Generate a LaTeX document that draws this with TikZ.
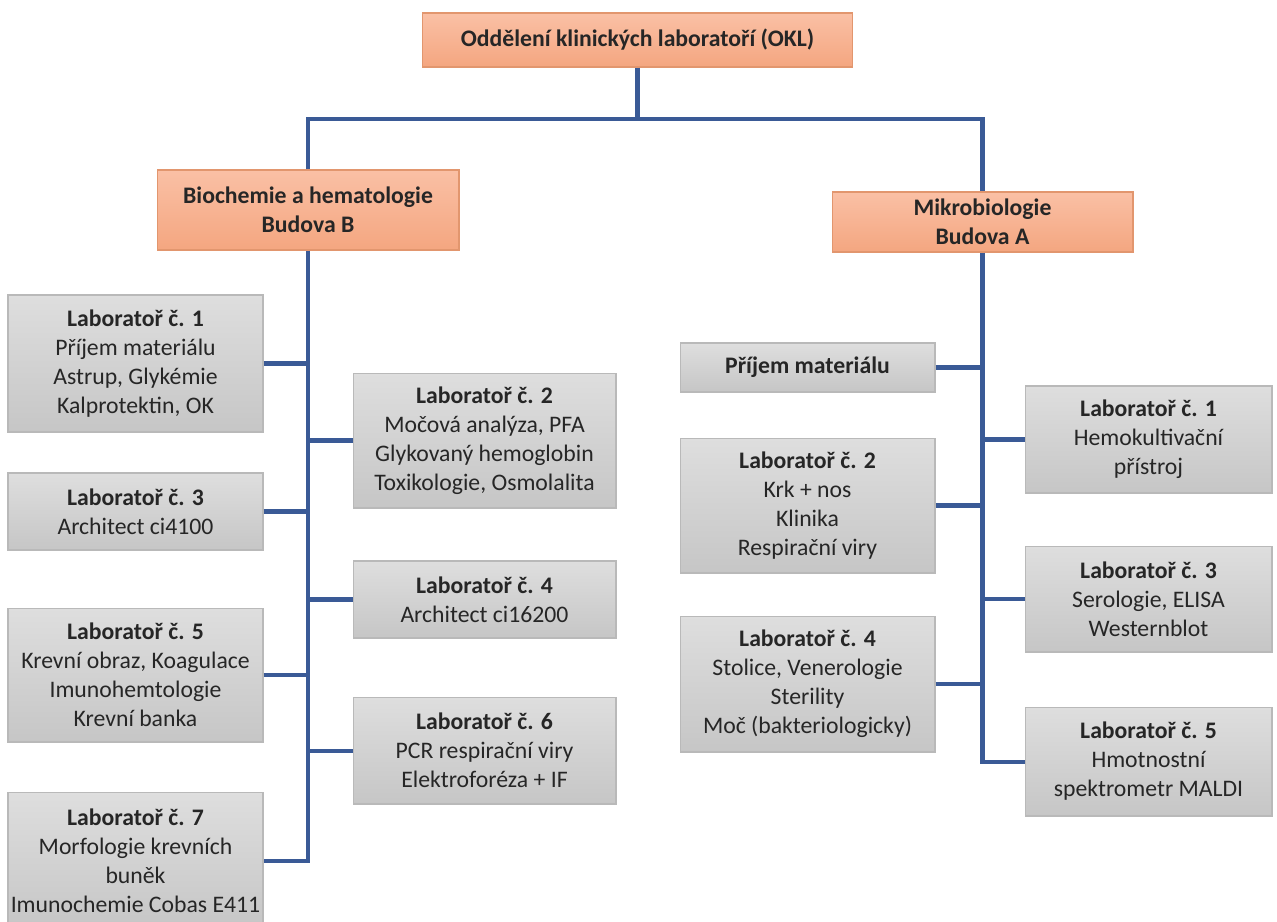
\documentclass[tikz,border=0pt]{standalone}
\usepackage{fontspec}
\setmainfont{Carlito}
\definecolor{linkblue}{RGB}{58,90,150}
\definecolor{salmontop}{RGB}{250,192,165}
\definecolor{salmonbot}{RGB}{244,166,128}
\definecolor{salmonline}{RGB}{226,150,110}
\definecolor{greytop}{RGB}{222,222,222}
\definecolor{greybot}{RGB}{198,198,198}
\definecolor{greyline}{RGB}{185,185,185}
\definecolor{inkgrey}{RGB}{38,38,38}
\tikzset{
	box/.style={rectangle, inner sep=0pt, align=center, text=inkgrey,
		font=\fontsize{13.5}{16.5}\selectfont, line width=0.6pt},
	headbox/.style={box, draw=salmonline, top color=salmontop, bottom color=salmonbot},
	labbox/.style={box, draw=greyline, top color=greytop, bottom color=greybot},
	link/.style={draw=linkblue, line width=2.3pt}
}
\begin{document}
\begin{tikzpicture}[x=0.02cm, y=-0.02cm]
		\useasboundingbox (0, 0) rectangle (1277, 921);
		%top
		\node[headbox, minimum width=8.62cm, minimum height=1.08cm] (okl) at (637.5, 40) {\textbf{Oddělení klinických laboratoří (OKL)}};
		\node[headbox, minimum width=6.04cm, minimum height=1.6cm] (bio) at (308, 210) {\textbf{Biochemie a hematologie}\\\textbf{Budova B}};
		\node[headbox, minimum width=6.02cm, minimum height=1.2cm] (mik) at (982.5, 222) {\textbf{Mikrobiologie}\\\textbf{Budova A}};
		\coordinate (split) at (637.5, 119);
		%budova B, left
		\node[labbox, minimum width=5.1cm, minimum height=2.74cm] (b1) at (135.5, 363.5) {\textbf{Laboratoř č. 1}\\Příjem materiálu\\Astrup, Glykémie\\Kalprotektin, OK};
		\node[labbox, minimum width=5.1cm, minimum height=1.54cm] (b3) at (135.5, 511.5) {\textbf{Laboratoř č. 3}\\Architect ci4100};
		\node[labbox, minimum width=5.1cm, minimum height=2.68cm] (b5) at (135.5, 675) {\textbf{Laboratoř č. 5}\\Krevní obraz, Koagulace\\Imunohemtologie\\Krevní banka};
		\node[labbox, minimum width=5.1cm, minimum height=2.74cm] (b7) at (135.5, 860.5) {\textbf{Laboratoř č. 7}\\Morfologie krevních\\buněk\\Imunochemie Cobas E411};
		%budova B, right
		\node[labbox, minimum width=5.26cm, minimum height=2.7cm] (b2) at (484.5, 440.5) {\textbf{Laboratoř č. 2}\\Močová analýza, PFA\\Glykovaný hemoglobin\\Toxikologie, Osmolalita};
		\node[labbox, minimum width=5.26cm, minimum height=1.54cm] (b4) at (484.5, 599.5) {\textbf{Laboratoř č. 4}\\Architect ci16200};
		\node[labbox, minimum width=5.26cm, minimum height=2.14cm] (b6) at (484.5, 750.5) {\textbf{Laboratoř č. 6}\\PCR respirační viry\\Elektroforéza + IF};
		%budova A, left
		\node[labbox, minimum width=5.1cm, minimum height=0.98cm] (mp) at (807.5, 367.5) {\textbf{Příjem materiálu}};
		\node[labbox, minimum width=5.1cm, minimum height=2.7cm] (m2) at (807.5, 505.5) {\textbf{Laboratoř č. 2}\\Krk + nos\\Klinika\\Respirační viry};
		\node[labbox, minimum width=5.1cm, minimum height=2.72cm] (m4) at (807.5, 684) {\textbf{Laboratoř č. 4}\\Stolice, Venerologie\\Sterility\\Moč (bakteriologicky)};
		%budova A, right
		\node[labbox, minimum width=4.94cm, minimum height=2.14cm] (m1) at (1148.5, 439.5) {\textbf{Laboratoř č. 1}\\Hemokultivační\\přístroj};
		\node[labbox, minimum width=4.94cm, minimum height=2.12cm] (m3) at (1148.5, 599) {\textbf{Laboratoř č. 3}\\Serologie, ELISA\\Westernblot};
		\node[labbox, minimum width=4.94cm, minimum height=2.18cm] (m5) at (1148.5, 761.5) {\textbf{Laboratoř č. 5}\\Hmotnostní\\spektrometr MALDI};
		%links
		\draw[link] (okl.south) -- (split);
		\draw[link] (bio.north) |- (split) -| (mik.north);
		\draw[link] (bio.south) |- (b7.east);
		\foreach \n in {b1, b3, b5}
			\draw[link] (\n.east) -- (\n.east -| bio.south);
		\foreach \n in {b2, b4, b6}
			\draw[link] (\n.west) -- (\n.west -| bio.south);
		\draw[link] (mik.south) |- (m5.west);
		\foreach \n in {mp, m2, m4}
			\draw[link] (\n.east) -- (\n.east -| mik.south);
		\foreach \n in {m1, m3}
			\draw[link] (\n.west) -- (\n.west -| mik.south);
\end{tikzpicture}
\end{document}
